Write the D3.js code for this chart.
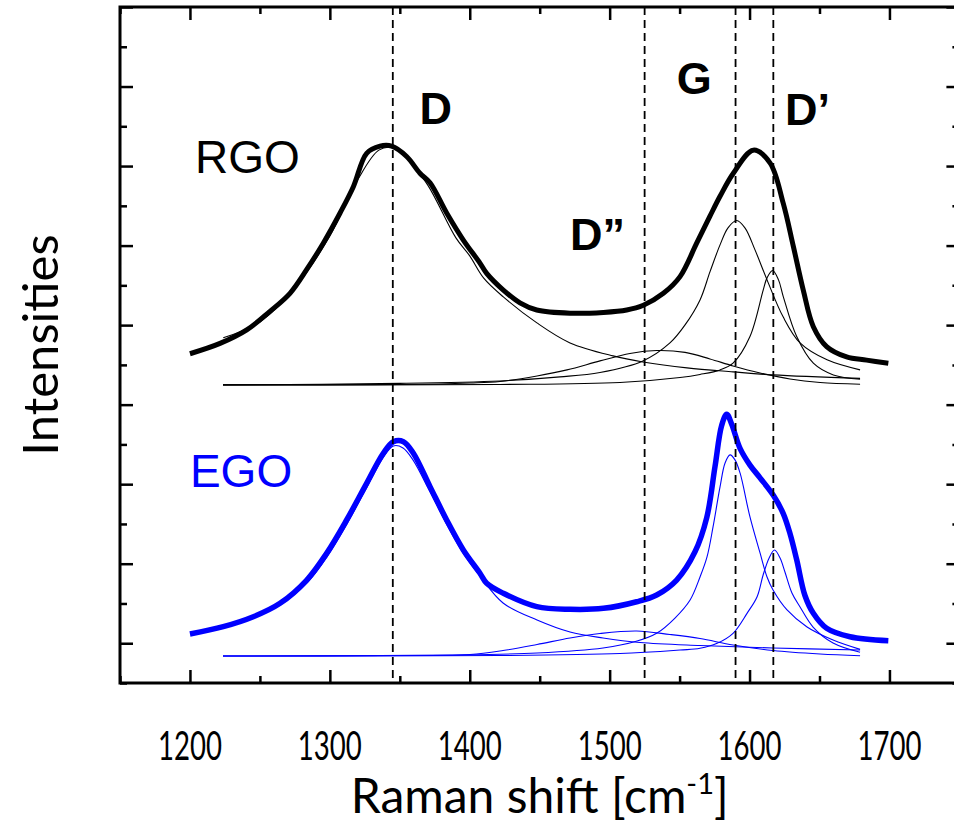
<!DOCTYPE html>
<html>
<head>
<meta charset="utf-8">
<script src="https://cdn.jsdelivr.net/npm/d3@7"></script>
<style>
  body { margin: 0; background: #fff; }
  svg { display: block; }
</style>
</head>
<body>
<svg id="chart"></svg>
<script>
// ---- data ----
const xMajorTicks = [1200, 1300, 1400, 1500, 1600, 1700];
const xMinorTicks = [1150, 1250, 1350, 1450, 1550, 1650, 1750];
const yMajorTicks = [0, 1, 2, 3, 4, 5, 6, 7, 8];
const yMinorTicks = [-0.5, 0.5, 1.5, 2.5, 3.5, 4.5, 5.5, 6.5, 7.5];

// band positions (dashed markers)
const bandNames = ["D", "D\u201D", "G", "D\u2019"];
const bandShifts = [1345, 1525, 1590, 1617];

// RGO spectrum and fitted components
const rgoMeasured = [[1200,3.64],[1221.5,3.77],[1240.6,3.94],[1257,4.17],[1271.5,4.40],[1283.5,4.70],[1295.3,5.03],[1307.3,5.41],[1316.8,5.74],[1326.3,6.16],[1335.8,6.25],[1344.2,6.25],[1354.9,6.12],[1364.4,5.91],[1371.6,5.79],[1383.5,5.41],[1395.4,5.07],[1407.3,4.78],[1412.1,4.65],[1424,4.44],[1435.9,4.28],[1447.9,4.19],[1471.7,4.15],[1495.5,4.16],[1512.2,4.19],[1524.1,4.25],[1538.4,4.40],[1550.3,4.61],[1562.2,5.03],[1571.7,5.37],[1578.9,5.62],[1588.4,5.91],[1602.7,6.20],[1614.6,6.04],[1624.1,5.53],[1631.3,4.99],[1638.4,4.44],[1645.6,3.98],[1655.1,3.73],[1669.4,3.60],[1683.7,3.56],[1699.2,3.52]];
const rgoFitD = [[1223.8,3.84],[1250,4.04],[1275,4.47],[1300,5.12],[1320,5.83],[1335,6.20],[1345,6.23],[1355,6.10],[1370,5.76],[1390,5.10],[1400,4.87],[1410,4.59],[1424,4.355],[1448,4.028],[1471.7,3.776],[1502.4,3.613],[1523.8,3.537],[1555.3,3.462],[1588.2,3.412],[1616.8,3.374],[1679,3.330]];
const rgoFitD2 = [[1223.6,3.248],[1350.1,3.254],[1400.2,3.273],[1421.6,3.292],[1448.1,3.361],[1469.5,3.437],[1493.1,3.550],[1514.5,3.644],[1533.8,3.680],[1553.9,3.657],[1571.7,3.575],[1588.2,3.487],[1607.5,3.399],[1628.9,3.323],[1650.4,3.279],[1679,3.257]];
const rgoFitG = [[1223.6,3.248],[1350.1,3.267],[1421.6,3.298],[1464.5,3.349],[1493.1,3.405],[1523.8,3.550],[1543.1,3.776],[1553.9,4.003],[1564.6,4.317],[1571.7,4.669],[1578.9,5.009],[1584.6,5.223],[1590.8,5.315],[1596.7,5.223],[1603.9,4.946],[1612.5,4.569],[1623.9,4.107],[1636.1,3.776],[1655.4,3.563],[1679,3.437]];
const rgoFitD1 = [[1223.6,3.248],[1421.6,3.254],[1507.4,3.279],[1550.3,3.342],[1564.6,3.380],[1578.9,3.437],[1588.2,3.521],[1600.3,3.856],[1609.8,4.443],[1612.5,4.594],[1616.5,4.686],[1620.7,4.569],[1624.1,4.359],[1633.7,3.856],[1645.6,3.521],[1659.9,3.374],[1679,3.320]];

// EGO spectrum and fitted components
const egoMeasured = [[1200,0.116],[1223.8,0.208],[1245.3,0.333],[1264.4,0.502],[1283.5,0.795],[1297.7,1.131],[1312,1.550],[1326.3,2.011],[1338.2,2.389],[1345.4,2.535],[1352.6,2.535],[1359.7,2.389],[1371.6,1.969],[1383.5,1.550],[1395.4,1.173],[1407.3,0.880],[1412.1,0.754],[1424,0.628],[1447.9,0.460],[1471.7,0.427],[1495.5,0.439],[1519.3,0.522],[1533.6,0.607],[1547.9,0.795],[1561,1.15],[1569.4,1.58],[1575.3,2.22],[1580.1,2.74],[1583.7,2.88],[1587.3,2.75],[1593.2,2.45],[1600.3,2.24],[1607.5,2.08],[1617,1.86],[1624.1,1.63],[1628.9,1.38],[1633.7,1.05],[1639.6,0.60],[1645.6,0.376],[1655.1,0.188],[1671.8,0.082],[1699.2,0.032]];
const egoFitD = [[1223.8,0.204],[1245.1,0.318],[1264.4,0.481],[1283.7,0.758],[1298,1.085],[1312.3,1.500],[1326.6,1.965],[1338,2.330],[1345.4,2.481],[1352.3,2.456],[1359.4,2.305],[1371.6,1.902],[1383.7,1.487],[1395.2,1.135],[1407.3,0.845],[1423.8,0.506],[1448.1,0.292],[1471.7,0.141],[1495.3,0.066],[1521.7,0.009],[1564.6,-0.029],[1616.8,-0.060],[1679,-0.085]];
const egoFitD2 = [[1223.6,-0.161],[1350.1,-0.155],[1400.2,-0.142],[1423.8,-0.092],[1448.1,-0.016],[1471.7,0.066],[1493.1,0.122],[1519.3,0.154],[1543.1,0.110],[1564.6,0.059],[1588.2,-0.023],[1616.8,-0.092],[1650.4,-0.136],[1679,-0.158]];
const egoFitG = [[1223.6,-0.161],[1385.9,-0.148],[1448.1,-0.123],[1495.3,-0.060],[1519.6,0.028],[1533.9,0.129],[1546.7,0.317],[1557.5,0.544],[1564.6,0.833],[1569.6,1.085],[1573.9,1.462],[1578.9,1.965],[1582.5,2.267],[1586.1,2.368],[1589.6,2.305],[1593.2,2.141],[1600.3,1.588],[1607.5,1.135],[1612.5,0.833],[1616.8,0.669],[1626.8,0.418],[1641.1,0.204],[1659.7,0.040],[1679,-0.077]];
const egoFitD1 = [[1223.6,-0.161],[1421.6,-0.155],[1507.4,-0.130],[1550.3,-0.085],[1564.6,-0.064],[1576.8,-0.001],[1588.2,0.125],[1598.2,0.376],[1605.4,0.585],[1609.7,0.858],[1614,1.072],[1617.8,1.172],[1621.8,1.072],[1625.3,0.896],[1630.3,0.632],[1636.1,0.456],[1645.4,0.204],[1659.7,0.003],[1679,-0.114]];

// ---- layout ----
const W = 954, H = 822;
const margin = { top: 7, left: 120 },
    width = 839.4,
    height = 676;

const svg = d3.select("#chart")
    .attr("width", W)
    .attr("height", H);

const g = svg.append("g")
    .attr("transform", `translate(${margin.left},${margin.top})`);

const x = d3.scaleLinear().domain([1150, 1750]).range([0, width]);
const y = d3.scaleLinear().domain([-0.5, 8]).range([height, 0]);

const labelFont = "Lato, 'Open Sans', sans-serif";
const annoFont = "'Liberation Sans', Arial, sans-serif";

// ticks (all pointing inward)
function tickAxis(axis, values, size) {
  return axis.tickValues(values).tickSize(size).tickSizeOuter(0).tickFormat("");
}
const axisGroups = [
  [g.append("g").attr("transform", `translate(0,${height})`), tickAxis(d3.axisBottom(x), xMajorTicks, -13)],
  [g.append("g").attr("transform", `translate(0,${height})`), tickAxis(d3.axisBottom(x), xMinorTicks, -7)],
  [g.append("g"), tickAxis(d3.axisTop(x), xMajorTicks, -13)],
  [g.append("g"), tickAxis(d3.axisTop(x), xMinorTicks, -7)],
  [g.append("g"), tickAxis(d3.axisLeft(y), yMajorTicks, -13)],
  [g.append("g"), tickAxis(d3.axisLeft(y), yMinorTicks, -7)],
  [g.append("g").attr("transform", `translate(${width},0)`), tickAxis(d3.axisRight(y), yMajorTicks, -13)],
  [g.append("g").attr("transform", `translate(${width},0)`), tickAxis(d3.axisRight(y), yMinorTicks, -7)]
];
axisGroups.forEach(([sel, ax]) => {
  sel.call(ax);
  sel.select(".domain").remove();
  sel.selectAll(".tick line").attr("stroke", "#000").attr("stroke-width", 2.5);
});

// frame
g.append("rect")
    .attr("x", 0).attr("y", 0)
    .attr("width", width).attr("height", height)
    .attr("fill", "none")
    .attr("stroke", "#000")
    .attr("stroke-width", 3);

// x tick labels (narrow, Calibri-like proportions)
g.selectAll(".xlabel")
  .data(xMajorTicks)
  .enter().append("text")
    .attr("class", "xlabel")
    .attr("x", d => x(d))
    .attr("y", height + 77)
    .attr("text-anchor", "middle")
    .attr("textLength", 64)
    .attr("lengthAdjust", "spacingAndGlyphs")
    .style("font-family", labelFont)
    .style("font-size", "41px")
    .text(d => d);

// axis titles
const xt = g.append("text")
    .attr("x", x(1450))
    .attr("y", height + 130)
    .attr("text-anchor", "middle")
    .style("font-family", labelFont)
    .style("font-size", "48px");
xt.append("tspan").text("Raman shift [cm");
xt.append("tspan").attr("dy", -19).style("font-size", "29px").text("-1");
xt.append("tspan").attr("dy", 19).text("]");

svg.append("text")
    .attr("transform", `translate(58,${margin.top + y(3.75)}) rotate(-90)`)
    .attr("text-anchor", "middle")
    .style("font-family", labelFont)
    .style("font-size", "49px")
    .text("Intensities");

// curves
const line = d3.line()
    .x(d => x(d[0]))
    .y(d => y(d[1]))
    .curve(d3.curveCatmullRom.alpha(0.5));

const fits = [
  [rgoFitD, "#000"], [rgoFitD2, "#000"], [rgoFitG, "#000"], [rgoFitD1, "#000"],
  [egoFitD, "#0000ff"], [egoFitD2, "#0000ff"], [egoFitG, "#0000ff"], [egoFitD1, "#0000ff"]
];
fits.forEach(([data, color]) => {
  g.append("path")
    .datum(data)
    .attr("d", line)
    .attr("fill", "none")
    .attr("stroke", color)
    .attr("stroke-width", 1.1);
});

g.append("path")
    .datum(rgoMeasured)
    .attr("d", line)
    .attr("fill", "none")
    .attr("stroke", "#000")
    .attr("stroke-width", 5)
    .attr("stroke-linejoin", "round");

g.append("path")
    .datum(egoMeasured)
    .attr("d", line)
    .attr("fill", "none")
    .attr("stroke", "#0000ff")
    .attr("stroke-width", 5.5)
    .attr("stroke-linejoin", "round");

// dashed band markers
g.selectAll(".band")
  .data(bandShifts)
  .enter().append("line")
    .attr("class", "band")
    .attr("x1", d => x(d)).attr("x2", d => x(d))
    .attr("y1", 0).attr("y2", height)
    .attr("stroke", "#000")
    .attr("stroke-width", 1.8)
    .attr("stroke-dasharray", "8,5");

// band names
const bandLabelPos = [[1364, 6.53], [1471.7, 4.95], [1548, 6.9], [1625.3, 6.52]];
g.selectAll(".bandname")
  .data(bandNames)
  .enter().append("text")
    .attr("class", "bandname")
    .attr("x", (d, i) => x(bandLabelPos[i][0]))
    .attr("y", (d, i) => y(bandLabelPos[i][1]))
    .style("font-family", annoFont)
    .style("font-weight", "bold")
    .style("font-size", "45px")
    .text(d => d);

// sample names
g.append("text")
    .attr("x", x(1203.6)).attr("y", y(5.915))
    .style("font-family", annoFont)
    .style("font-size", "46px")
    .attr("fill", "#000")
    .text("RGO");

g.append("text")
    .attr("x", x(1200)).attr("y", y(1.965))
    .style("font-family", annoFont)
    .style("font-size", "46px")
    .attr("fill", "#0000ff")
    .text("EGO");
</script>
</body>
</html>
